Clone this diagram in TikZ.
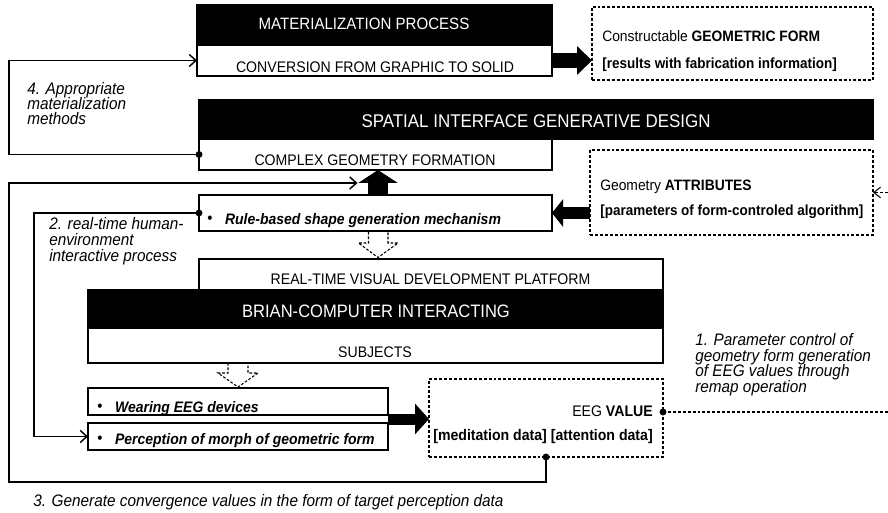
\documentclass[tikz,border=0pt]{standalone}
\usepackage{fontspec}
\setmainfont{Liberation Sans}[FakeStretch=0.92]
\usetikzlibrary{arrows.meta,calc}
\newcommand\fsz[2]{\fontsize{#1}{#2}\selectfont}
\newcommand\bul{\raisebox{0.3pt}{\fsz{12}{12}\textbullet}\hspace{9.5pt}}
\begin{document}
\begin{tikzpicture}[x=0.75pt,y=-0.75pt,
  wbox/.style={draw=black, line width=1.3pt, fill=white, inner sep=0pt, outer sep=0pt},
  hdr/.style={draw=black, fill=black, line width=1.3pt, inner sep=0pt, outer sep=0pt},
  dbox/.style={draw=black, line width=0.8pt, dash pattern=on 2.2pt off 1.5pt, inner sep=0pt, outer sep=0pt},
  txt/.style={inner sep=0pt, anchor=base},
  ltxt/.style={inner sep=0pt, anchor=base west},
  rtxt/.style={inner sep=0pt, anchor=base east},
  capt/.style={font=\fsz{11.5}{13}},
  lab/.style={inner sep=0pt, anchor=base west, font=\fsz{12.5}{13}\itshape},
  conn/.style={draw=black, line width=1.1pt},
  barb/.style={-{Straight Barb[length=5pt,width=9pt]}},
  dconn/.style={draw=black, line width=0.8pt, dash pattern=on 2.2pt off 1.5pt},
  harrow/.style={draw=black, line width=0.8pt, dash pattern=on 2pt off 1.3pt, line join=miter},
  dot/.style={fill=black}
]
\useasboundingbox (0,0) rectangle (888,513);

% ---------- boxes ----------
\node[hdr, minimum width=266.25pt, minimum height=30pt] (matH) at (374.5,25) {};
\node[wbox, minimum width=266.25pt, minimum height=23.25pt] (matB) at (374.5,60.5) {};
\node[txt, text=white, font=\fsz{12.3}{14}] (matHt) at (364,30) {MATERIALIZATION PROCESS};
\node[txt, capt] (matBt) at (375,73) {CONVERSION FROM GRAPHIC TO SOLID};

\node[dbox, minimum width=210.75pt, minimum height=54.75pt] (geo) at (732.5,43.5) {};
\node[ltxt, font=\fsz{11.3}{12}] (geot1) at (602,42) {Constructable \textbf{GEOMETRIC FORM}};
\node[ltxt, font=\fsz{11}{12}\bfseries] (geot2) at (602,69) {[results with fabrication information]};

\node[hdr, minimum width=505.5pt, minimum height=29.25pt] (sigH) at (536,119.5) {};
\node[txt, text=white, font=\fsz{13.8}{15}] (sigHt) at (536,128) {SPATIAL INTERFACE GENERATIVE DESIGN};
\node[wbox, minimum width=264.75pt, minimum height=23.25pt] (cgf) at (375.5,154.5) {};
\node[txt, capt] (cgft) at (375,166) {COMPLEX GEOMETRY FORMATION};

\node[dbox, minimum width=212.25pt, minimum height=63.75pt] (attr) at (731.5,192.5) {};
\node[ltxt, font=\fsz{11.3}{12}] (attrt1) at (600,191) {Geometry \textbf{ATTRIBUTES}};
\node[ltxt, font=\fsz{11}{12}\bfseries] (attrt2) at (600,216) {[parameters of form-controled algorithm]};

\node[wbox, minimum width=264.75pt, minimum height=27pt] (rule) at (375.5,213) {};
\node[ltxt, font=\fsz{11.4}{12}] (rulet) at (207,224) {\bul\textbf{\textit{Rule-based shape generation mechanism}}};

\node[wbox, minimum width=348pt, minimum height=29.25pt] (rtv) at (431,278.5) {};
\node[txt, capt] (rtvt) at (430.5,284) {REAL-TIME VISUAL DEVELOPMENT PLATFORM};
\node[hdr, minimum width=431.25pt, minimum height=28.5pt] (bciH) at (375.5,309) {};
\node[txt, text=white, font=\fsz{13.5}{15}] (bciHt) at (376,317) {BRIAN-COMPUTER INTERACTING};
\node[wbox, minimum width=431.25pt, minimum height=26.25pt] (subj) at (375.5,345.5) {};
\node[txt, capt] (subjt) at (375,357) {SUBJECTS};

\node[wbox, minimum width=225pt, minimum height=20.25pt] (wear) at (238,401.5) {};
\node[ltxt, font=\fsz{11.4}{12}] (weart) at (97,412) {\bul\textbf{\textit{Wearing EEG devices}}};
\node[wbox, minimum width=225pt, minimum height=20.25pt] (perc) at (238,436.5) {};
\node[ltxt, font=\fsz{11.4}{12}] (perct) at (97,444) {\bul\textbf{\textit{Perception of morph of geometric form}}};

\node[dbox, minimum width=175.5pt, minimum height=58.5pt] (eeg) at (546,418) {};
\node[rtxt, font=\fsz{11.5}{12}] (eegt1) at (653,416) {EEG \textbf{VALUE}};
\node[rtxt, font=\fsz{11.5}{12}\bfseries] (eegt2) at (653,440) {[meditation data] [attention data]};

% ---------- labels ----------
\node[lab] (l4a) at (27,95) {4. Appropriate};
\node[lab] (l4b) at (27,110) {materialization};
\node[lab] (l4c) at (27,125) {methods};
\node[lab] (l2a) at (49,229) {2. real-time human-};
\node[lab] (l2b) at (49,246) {environment};
\node[lab] (l2c) at (49,262) {interactive process};
\node[lab] (l1a) at (695,345) {1. Parameter control of};
\node[lab] (l1b) at (695,361) {geometry form generation};
\node[lab] (l1c) at (695,376) {of EEG values through};
\node[lab] (l1d) at (695,392) {remap operation};
\node[lab] (l3a) at (33,506) {3. Generate convergence values in the form of target perception data};

% ---------- helper coordinates ----------
\coordinate (railA) at (9,0);
\coordinate (railB) at (34,0);
\coordinate (botY) at (0,482);
\coordinate (edgeR) at (888,0);
\coordinate (l3end) at ($(rule.north)+(-18,-12)$);
\coordinate (eegdot) at ($(eeg.east)+(0,-6)$);
\coordinate (dmid) at ($(wear.south east)!0.5!(perc.north east)$);

% ---------- fat arrows ----------
\draw[line width=11.25pt, -{Triangle[width=21pt,length=11.25pt]}] (matB.east) -- (matB.east -| geo.west);
\draw[line width=9pt, -{Triangle[width=20.25pt,length=8.25pt]}] (rule.east -| attr.west) -- (rule.east);
\draw[line width=15pt, -{Triangle[width=29.25pt,length=9.75pt]}] ($(rule.north)+(2.5,0)$) -- ($(cgf.south)+(2.5,0)$);
\draw[line width=8.25pt, -{Triangle[width=22.5pt,length=10.5pt]}] (dmid) -- (dmid -| eeg.west);

% ---------- hollow dashed arrows ----------
\draw[harrow, shift={($(rule.south)+(2.5,0)$)}] (-9.5,1) -- (-9.5,12) -- (-19.5,12) -- (0,26.5) -- (20,12) -- (10,12) -- (10,1);
\draw[harrow, shift={(subj.south -| wear.north)}] (-10,0) -- (-10,10) -- (-20,10) -- (0,24) -- (20,10) -- (10,10) -- (10,0);

% ---------- connectors ----------
\draw[conn, barb] (cgf.west) -- (cgf.west -| railA) |- (matB.west);
\draw[conn, barb] (eeg.south) -- (eeg.south |- botY) -| (railA |- l3end) -- (l3end);
\draw[conn, barb] (rule.west) -- (rule.west -| railB) |- (perc.west);
\draw[dconn] (eegdot) -- (eegdot -| edgeR);
\draw[dconn, -{Straight Barb[length=5pt,width=8pt]}] (attr.east -| edgeR) -- (attr.east);

\fill[dot] (cgf.west) circle (2.6pt);
\fill[dot] (rule.west) circle (2.6pt);
\fill[dot] (eeg.south) circle (2.6pt);
\fill[dot] (eegdot) circle (2.6pt);
\end{tikzpicture}
\end{document}
